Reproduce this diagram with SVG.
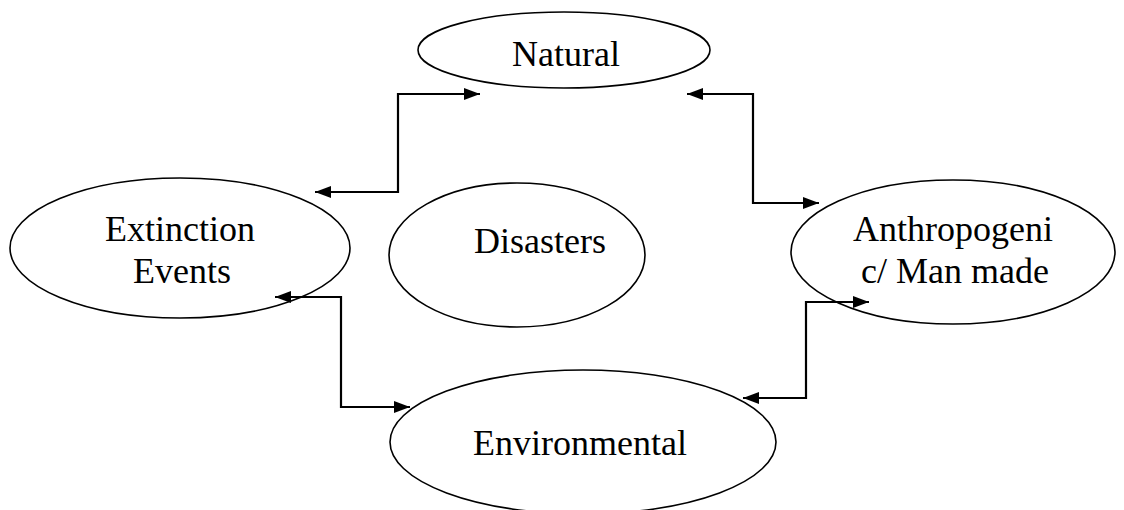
<svg xmlns="http://www.w3.org/2000/svg" width="1124" height="510" viewBox="0 0 1124 510">
<style>
.n ellipse{fill:#fff;stroke:#000;stroke-width:1.6}
.n text{font-family:"Liberation Serif","Times New Roman",serif;font-size:36px;fill:#000;text-anchor:middle}
.c path{fill:none;stroke:#000;stroke-width:2.2}
</style>
<defs>
<marker id="ah" viewBox="0 0 16 12" refX="16" refY="6" markerWidth="16" markerHeight="12" markerUnits="userSpaceOnUse" orient="auto-start-reverse">
<path d="M0,0 L16,6 L0,12 Z" fill="#000"/>
</marker>
</defs>
<rect width="1124" height="510" fill="#fff"/>
<g id="natural" class="n"><ellipse cx="564" cy="50" rx="146" ry="38"/><text x="566" y="66">Natural</text></g>
<g id="extinction" class="n"><ellipse cx="180" cy="248" rx="170" ry="70"/><text x="180" y="241">Extinction</text><text x="182" y="283">Events</text></g>
<g id="disasters" class="n"><ellipse cx="517" cy="255" rx="128" ry="72"/><text x="540" y="253">Disasters</text></g>
<g id="anthropogenic" class="n"><ellipse cx="953" cy="252" rx="162" ry="72"/><text x="953" y="241">Anthropogeni</text><text x="955" y="283">c/ Man made</text></g>
<g id="environmental" class="n"><ellipse cx="583" cy="442" rx="193" ry="72"/><text x="580" y="455">Environmental</text></g>
<g id="connectors" class="c">
<path d="M315,192 H398 V94 H480" marker-start="url(#ah)" marker-end="url(#ah)"/>
<path d="M687,94 H753 V203 H819" marker-start="url(#ah)" marker-end="url(#ah)"/>
<path d="M275,297 H341 V407 H410" marker-start="url(#ah)" marker-end="url(#ah)"/>
<path d="M743,398 H806 V302 H869" marker-start="url(#ah)" marker-end="url(#ah)"/>
</g>
</svg>
